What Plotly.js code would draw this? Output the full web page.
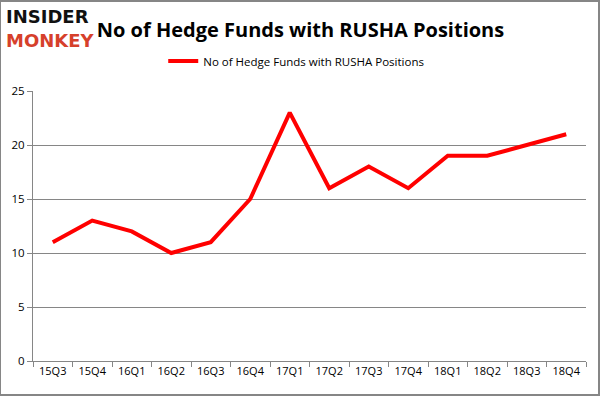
<!DOCTYPE html>
<html>
<head>
<meta charset="utf-8">
<script src="https://cdn.plot.ly/plotly-3.0.1.min.js"></script>
<style>
html,body{margin:0;padding:0;background:#fff;}
#chart{width:601px;height:396px;}
</style>
</head>
<body>
<div id="chart"></div>
<script>
const quarters = ["15Q3","15Q4","16Q1","16Q2","16Q3","16Q4","17Q1","17Q2","17Q3","17Q4","18Q1","18Q2","18Q3","18Q4"];
const hedgeFunds = [11,13,12,10,11,15,23,16,18,16,19,19,20,21];
const yTicks = [0,5,10,15,20,25];
const seriesName = "No of Hedge Funds with RUSHA Positions";
const chartTitle = "No of Hedge Funds with RUSHA Positions";

const trace = {
  x: quarters, y: hedgeFunds, type: "scatter", mode: "lines",
  name: seriesName,
  line: {color: "#ff0000", width: 4}
};

const layout = {
  width: 601, height: 396,
  margin: {l: 33, r: 15, t: 91, b: 35},
  paper_bgcolor: "#ffffff", plot_bgcolor: "#ffffff",
  font: {family: "Open Sans, DejaVu Sans, sans-serif", size: 11, color: "#000"},
  title: {text: "<b>" + chartTitle + "</b>", x: 0.5, xanchor: "center", y: 0.925, yanchor: "middle",
          font: {size: 20, family: "Open Sans, DejaVu Sans, sans-serif", color: "#000"}},
  showlegend: true,
  legend: {orientation: "h", x: 0.476, xanchor: "center", y: 1.111, yanchor: "middle",
           font: {size: 11.5, color: "#000"}, itemwidth: 30},
  xaxis: {type: "category", range: [-0.5, 13.5], showgrid: false, showline: true,
          linecolor: "#868686", linewidth: 1, ticks: "outside", tickson: "boundaries",
          ticklen: 5, tickcolor: "#868686", tickfont: {size: 11}, fixedrange: true},
  yaxis: {range: [0, 25], tickvals: yTicks, showgrid: true, gridcolor: "#868686", gridwidth: 1,
          showline: true, linecolor: "#868686", ticks: "outside", ticklen: 5, tickcolor: "#868686",
          zeroline: false, tickfont: {size: 11.5}, fixedrange: true},
  shapes: [{type: "rect", xref: "paper", yref: "paper", x0: -33/553, x1: 1 + 13/553,
            y0: -34/270, y1: 1 + 90/270, line: {color: "#868686", width: 2}}],
  annotations: [
    {xref: "paper", yref: "paper", x: -28/553, y: 1 + 75/270, xanchor: "left", yanchor: "middle",
     text: "<b>INSIDER</b>", showarrow: false, borderpad: 0,
     font: {size: 18, family: "DejaVu Sans, sans-serif", color: "#111"}},
    {xref: "paper", yref: "paper", x: -28/553, y: 1 + 51/270, xanchor: "left", yanchor: "middle",
     text: "<b>MONKEY</b>", showarrow: false, borderpad: 0,
     font: {size: 18, family: "DejaVu Sans, sans-serif", color: "#d6402b"}}
  ]
};

Plotly.newPlot("chart", [trace], layout, {displayModeBar: false, staticPlot: true});
</script>
</body>
</html>
